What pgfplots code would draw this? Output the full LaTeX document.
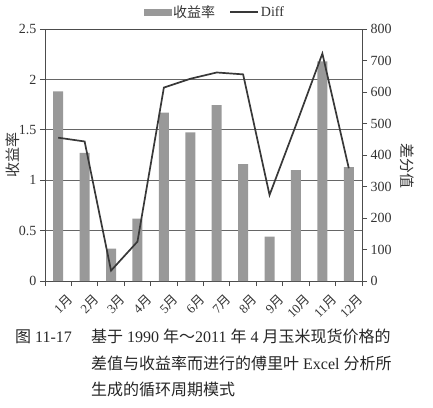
\documentclass[border=0pt]{standalone}
\usepackage{fontspec}
\setmainfont{Liberation Serif}
\newfontfamily\cjk{Noto Sans CJK SC}
\usepackage{pgfplots}
\pgfplotsset{compat=1.18}
\newcommand\C[1]{{\cjk #1}}
\definecolor{barc}{gray}{0.6}
\definecolor{linec}{gray}{0.22}
\begin{document}
\begin{tikzpicture}
\useasboundingbox (-45pt,-126pt) rectangle (388pt,281pt);
\begin{axis}[
  at={(0,0)}, anchor=south west, scale only axis,
  width=317pt, height=252pt,
  xmin=-0.5, xmax=11.5, ymin=0, ymax=2.5,
  xtick={-0.5,0.5,1.5,2.5,3.5,4.5,5.5,6.5,7.5,8.5,9.5,10.5,11.5},
  x tick label as interval,
  xticklabels={1\C{月},2\C{月},3\C{月},4\C{月},5\C{月},6\C{月},7\C{月},8\C{月},9\C{月},10\C{月},11\C{月},12\C{月}},
  ytick={0,0.5,1,1.5,2,2.5},
  xtick pos=bottom, ytick pos=left,
  tick align=outside, major tick length=5pt,
  tick style={black!70, line width=0.9pt},
  ymajorgrids, grid style={black!60, line width=0.8pt},
  axis line style={black!70, line width=0.9pt},
  ticklabel style={font=\fontsize{14}{16}\selectfont, text=black!80},
  /pgf/number format/assume math mode=true,
  xticklabel style={rotate=45, anchor=north east, font=\fontsize{13}{15}\selectfont, xshift=4pt, yshift=-7pt},
  ylabel={\C{收益率}},
  ylabel style={at={(axis description cs:-0.101,0.5)}, anchor=center, font=\fontsize{15}{17}\selectfont, text=black!80},
]
\addplot[ybar, bar width=10pt, fill=barc, draw=none] coordinates {
  (0,1.88) (1,1.27) (2,0.32) (3,0.62) (4,1.67) (5,1.475)
  (6,1.745) (7,1.16) (8,0.44) (9,1.10) (10,2.18) (11,1.13)};
\end{axis}
\begin{axis}[
  at={(0,0)}, anchor=south west, scale only axis,
  width=317pt, height=252pt,
  xmin=-0.5, xmax=11.5, ymin=0, ymax=800,
  axis x line=none, axis y line*=right,
  ytick={0,100,...,800},
  tick align=outside, major tick length=5pt,
  tick style={black!70, line width=0.9pt},
  axis line style={black!70, line width=0.9pt},
  ticklabel style={font=\fontsize{14}{16}\selectfont, text=black!80},
  /pgf/number format/assume math mode=true,
  ylabel={\C{差分值}},
  ylabel style={at={(axis description cs:1.142,0.456)}, anchor=center, rotate=180, font=\fontsize{15}{17}\selectfont, text=black!80},
  legend style={at={(axis description cs:0.536,1.067)}, anchor=center, draw=none, fill=none,
    font=\fontsize{14}{16}\selectfont, text=black!80, /tikz/every even column/.append style={column sep=12pt}},
  legend columns=-1,
]
\addlegendimage{legend image code/.code={\fill[barc] (0pt,-3pt) rectangle (27pt,3pt);}}
\addlegendentry{\C{收益率}}
\addplot[line width=1.7pt, linec, mark=none,
  legend image code/.code={\draw[line width=1.7pt, linec] (0pt,0pt) -- (28pt,0pt);}] coordinates {
  (0,455) (1,443) (2,33) (3,125) (4,614) (5,642)
  (6,662) (7,656) (8,273) (9,495) (10,722) (11,358)};
\addlegendentry{Diff}
\end{axis}
\begin{scope}[every node/.style={anchor=base west, inner sep=0pt, font=\fontsize{16}{18}\selectfont, text=black!85}]
\node at (-30pt,-61pt) {\C{图} 11-17};
\node at (46pt,-61pt) {\C{基于} 1990 \C{年～}2011 \C{年} 4 \C{月玉米现货价格的}};
\node at (46pt,-88pt) {\C{差值与收益率而进行的傅里叶} Excel \C{分析所}};
\node at (46pt,-114pt) {\C{生成的循环周期模式}};
\end{scope}
\end{tikzpicture}
\end{document}
